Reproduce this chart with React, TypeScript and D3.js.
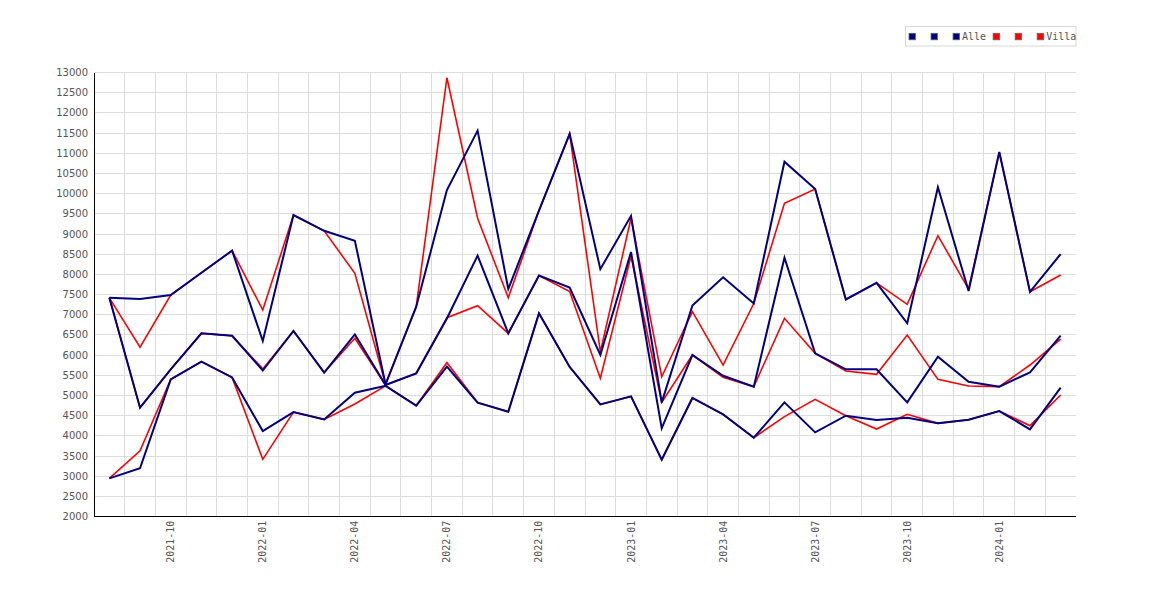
import * as d3 from "d3";
import React from "react";

// months 2021-08 .. 2024-03
const months: string[] = [];
for (let y = 2021, m = 8; y < 2024 || (y === 2024 && m <= 3); ) {
  months.push(`${y}-${String(m).padStart(2, "0")}`);
  m++;
  if (m > 12) { m = 1; y++; }
}

const alleHigh = [7420, 7390, 7490, 8040, 8590, 6350, 9470, 9080, 8835, 5280, 7200, 10090, 11560, 7640, 9580, 11480, 8130, 9450, 4830, 7230, 7930, 7280, 10790, 10115, 7380, 7790, 6790, 10160, 7590, 11030, 7570, 8505];
const alleMid = [7420, 4700, 5650, 6540, 6480, 5620, 6600, 5570, 6515, 5260, 5550, 6910, 8465, 6540, 7970, 7675, 6004, 8555, 4190, 6004, 5490, 5220, 8414, 6045, 5650, 5650, 4832, 5963, 5343, 5220, 5575, 6483];
const alleLow = [2950, 3200, 5400, 5840, 5450, 4120, 4590, 4410, 5070, 5240, 4750, 5715, 4823, 4600, 7036, 5710, 4780, 4980, 3410, 4940, 4535, 3957, 4832, 4089, 4500, 4394, 4452, 4312, 4400, 4617, 4163, 5195];

const villaHigh = [7420, 6200, 7490, 8040, 8590, 7118, 9470, 9080, 8026, 5280, 7200, 12870, 9390, 7424, 9580, 11480, 6085, 9390, 5466, 7076, 5756, 7280, 9760, 10115, 7380, 7790, 7259, 8959, 7638, 11030, 7570, 7985];
const villaMid = [7420, 4700, 5650, 6540, 6480, 5660, 6600, 5570, 6417, 5260, 5550, 6928, 7226, 6540, 7970, 7575, 5427, 8450, 4830, 6004, 5450, 5220, 6912, 6045, 5608, 5525, 6499, 5401, 5236, 5220, 5756, 6400];
const villaLow = [2950, 3630, 5400, 5840, 5450, 3420, 4590, 4410, 4790, 5240, 4750, 5814, 4830, 4600, 7036, 5710, 4780, 4980, 3410, 4940, 4535, 3957, 4477, 4906, 4500, 4171, 4535, 4312, 4400, 4617, 4254, 5013];

const yTicks = d3.range(2000, 13001, 500);
const xTickLabels = months.filter((_, i) => i % 3 === 2);

const legendLabels = [" ", " ", "Alle", " ", " ", "Villa"];
const legendColors = ["#000080", "#000080", "#000080", "#ff0000", "#ff0000", "#ff0000"];

const W = 1170;
const H = 600;
const left = 94;
const right = 1076;
const top = 72.5;
const bottom = 516.7;

const App = () => {
  const x = d3.scaleBand<string>().domain(months).range([left, right]);
  const cx = (m: string) => (x(m) ?? 0) + x.bandwidth() / 2;
  const y = d3.scaleLinear().domain([2000, 13000]).range([bottom, top]);

  const line = d3
    .line<number>()
    .x((_, i) => cx(months[i]))
    .y((d) => y(d));

  const villa = [villaHigh, villaMid, villaLow];
  const alle = [alleHigh, alleMid, alleLow];

  // legend layout
  const charW = 6.02;
  let lx = 909;
  const legendItems = legendLabels.map((label, i) => {
    const item = { x: lx, label, color: legendColors[i] };
    lx += 6.5 + 2.5 + label.length * charW + 7;
    return item;
  });

  return (
    <svg
      width={W}
      height={H}
      style={{ position: "absolute", left: 0, top: 0, background: "#fff" }}
    >
      {/* horizontal grid */}
      <g shapeRendering="crispEdges">
        {yTicks.map((t) => (
          <line key={t} x1={left} x2={right} y1={y(t)} y2={y(t)} stroke="#dcdcdc" />
        ))}
        {months.slice(1).map((m) => (
          <line key={m} x1={x(m)} x2={x(m)} y1={top} y2={bottom} stroke="#dcdcdc" />
        ))}
      </g>

      {villa.map((s, i) => (
        <path key={"v" + i} d={line(s) ?? ""} fill="none" stroke="#ff0000" strokeWidth={1.6} />
      ))}
      {alle.map((s, i) => (
        <path key={"a" + i} d={line(s) ?? ""} fill="none" stroke="#000080" strokeWidth={2} />
      ))}

      {/* axes */}
      <g shapeRendering="crispEdges">
        <line x1={left} x2={left} y1={top} y2={bottom} stroke="#000" />
        <line x1={left} x2={right} y1={bottom} y2={bottom} stroke="#000" />
      </g>

      {yTicks.map((t) => (
        <text
          key={t}
          x={88}
          y={y(t)}
          dy="0.35em"
          textAnchor="end"
          fontFamily="DejaVu Sans"
          fontSize={10}
          fill="#555"
        >
          {t}
        </text>
      ))}

      {xTickLabels.map((m) => (
        <text
          key={m}
          transform={`translate(${cx(m) + 3.5},${bottom + 4}) rotate(-90)`}
          textAnchor="end"
          fontFamily="DejaVu Sans Mono"
          fontSize={10}
          fill="#555"
        >
          {m}
        </text>
      ))}

      {/* legend */}
      <rect x={905.5} y={26.5} width={170.5} height={19.5} fill="#fff" stroke="#d8d8d8" />
      {legendItems.map((it, i) => (
        <g key={i}>
          <rect x={it.x} y={33.3} width={6.5} height={6.5} fill={it.color} stroke="#666" strokeWidth={0.8} />
          <text
            x={it.x + 9}
            y={40.3}
            fontFamily="DejaVu Sans Mono"
            fontSize={10}
            fill="#555"
          >
            {it.label.trim()}
          </text>
        </g>
      ))}
    </svg>
  );
};

export default App;
